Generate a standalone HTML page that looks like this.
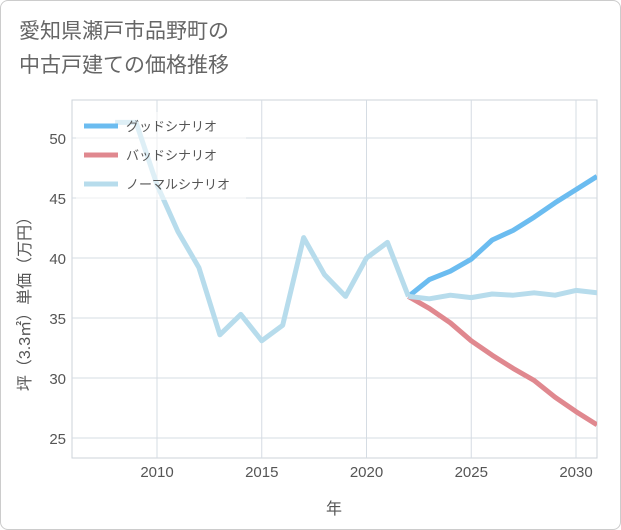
<!DOCTYPE html>
<html><head><meta charset="utf-8"><style>
body{margin:0;background:#fff;}
#wrap{position:relative;width:619px;height:528px;border:1px solid #ccc;border-radius:8px;background:#fff;overflow:hidden;font-family:"Liberation Sans","Noto Sans CJK JP",sans-serif;}
#title{position:absolute;left:18px;top:14px;font-size:21px;line-height:34px;color:#666;}
</style></head><body>
<div id="wrap">
<div id="title">愛知県瀬戸市品野町の<br>中古戸建ての価格推移</div>
<svg id="chart" width="621" height="530" style="position:absolute;left:-1px;top:-1px"></svg>
</div>
<script>
const years=[2008,2009,2010,2011,2012,2013,2014,2015,2016,2017,2018,2019,2020,2021,2022];
const normalPast=[51.3,51.3,46.1,42.2,39.2,33.6,35.3,33.1,34.4,41.7,38.6,36.8,40,41.3,36.8];
const futureYears=[2022,2023,2024,2025,2026,2027,2028,2029,2030,2031];
const good=[36.8,38.2,38.9,39.9,41.5,42.3,43.4,44.6,45.7,46.8];
const bad=[36.8,35.8,34.6,33.1,31.9,30.8,29.8,28.4,27.2,26.1];
const normalFuture=[36.8,36.6,36.9,36.7,37.0,36.9,37.1,36.9,37.3,37.1];
const xTicks=[2010,2015,2020,2025,2030];
const yTicks=[25,30,35,40,45,50];
const NS="http://www.w3.org/2000/svg";
const svg=document.getElementById('chart');
const L=72,R=597,T=100,B=458;
const x=v=>157+(v-2010)*20.95;
const y=v=>138+(50-v)*12;
function mk(t,a,p){const e=document.createElementNS(NS,t);for(const k in a)e.setAttribute(k,a[k]);(p||svg).appendChild(e);return e;}
const bg=mk('rect',{x:L,y:T,width:R-L,height:B-T,fill:'#fff',stroke:'#ccd3da'});


xTicks.forEach(t=>{
 const g=mk('line',{x1:x(t),x2:x(t),y1:T,y2:B,stroke:'#d5dce3'});
 
 
 const l=mk('text',{x:x(t),y:477,'text-anchor':'middle','font-size':15,fill:'#555'});
 l.textContent=t;
 
 
});
yTicks.forEach(t=>{
 const g=mk('line',{x1:L,x2:R,y1:y(t),y2:y(t),stroke:'#d5dce3'});
 
 
 const l=mk('text',{x:66,y:y(t)+6,'text-anchor':'end','font-size':15,fill:'#555'});
 l.textContent=t;
 
 
});
function line(xs,vs,c,name){
 const p=mk('polyline',{points:xs.map((a,i)=>x(a)+','+y(vs[i])).join(' '),fill:'none',stroke:c,'stroke-width':5,'stroke-linejoin':'round'});
 
 
}
const clip=mk('clipPath',{id:'cp'});mk('rect',{x:L,y:T,width:R-L,height:B-T},clip);
line(futureYears,bad,'#e0888f','bad-scenario-line');
line(futureYears,good,'#6bbcf0','good-scenario-line');
line(years,normalPast,'#b7dcec','normal-past-line');
line(futureYears,normalFuture,'#b7dcec','normal-scenario-line');
svg.querySelectorAll('polyline').forEach(p=>p.setAttribute('clip-path','url(#cp)'));
const lg=mk('g',{});


mk('rect',{x:76,y:112,width:170,height:88,fill:'rgba(255,255,255,0.55)'},lg);
[['グッドシナリオ','#6bbcf0',126],['バッドシナリオ','#e0888f',155],['ノーマルシナリオ','#b7dcec',184]].forEach(d=>{
 const e=mk('line',{x1:84,x2:118,y1:d[2],y2:d[2],stroke:d[1],'stroke-width':5},lg);
 
 
 const t=mk('text',{x:126,y:d[2]+5,'font-size':13,fill:'#555'},lg);
 t.textContent=d[0];
 
 
});
const xt=mk('text',{x:334,y:514,'text-anchor':'middle','font-size':16,fill:'#555'});
xt.textContent='年';


const yt=mk('text',{x:0,y:0,'text-anchor':'middle','font-size':16,fill:'#555',transform:'translate(30,300) rotate(-90)'});
yt.textContent='坪（3.3㎡）単価（万円）';


</script>
</body></html>
